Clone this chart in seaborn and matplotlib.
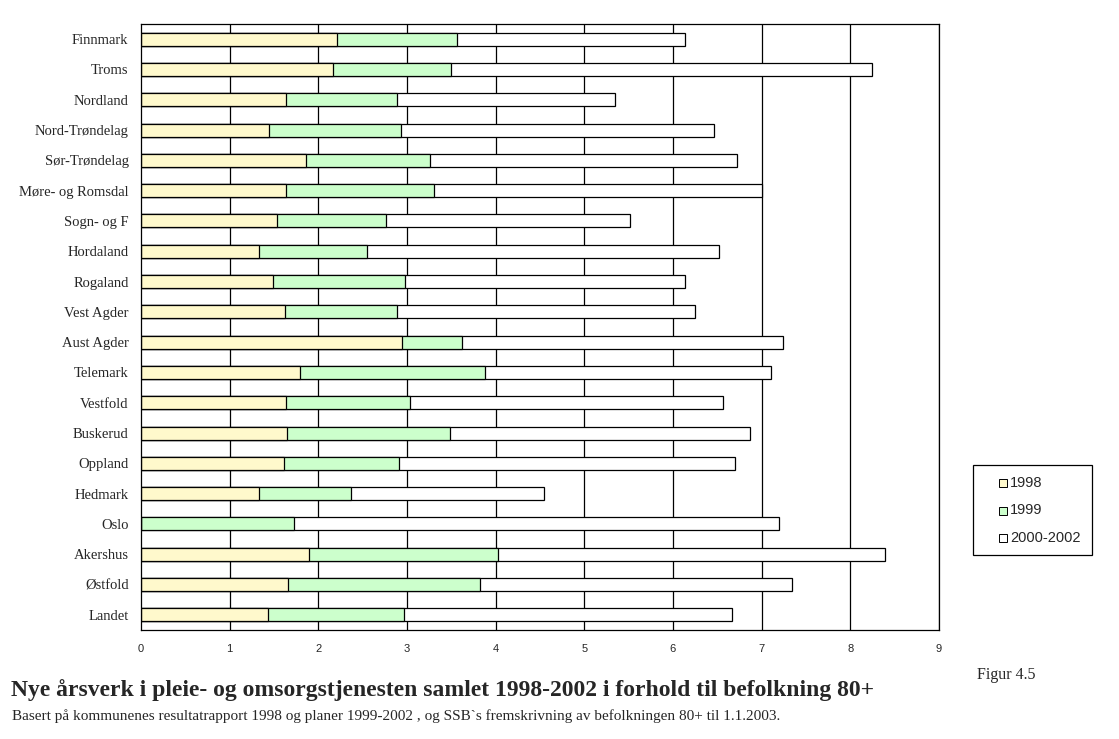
import numpy as np
import pandas as pd
import matplotlib
matplotlib.use('Agg')
import matplotlib.pyplot as plt
import seaborn as sns
from matplotlib.patches import Rectangle

# Regions, top to bottom as in the chart
regions = ['Finnmark', 'Troms', 'Nordland', 'Nord-Trøndelag', 'Sør-Trøndelag',
           'Møre- og Romsdal', 'Sogn- og F', 'Hordaland', 'Rogaland', 'Vest Agder',
           'Aust Agder', 'Telemark', 'Vestfold', 'Buskerud', 'Oppland',
           'Hedmark', 'Oslo', 'Akershus', 'Østfold', 'Landet']

# New man-years per segment (stacked)
y1998 = [2.21, 2.16, 1.63, 1.44, 1.86, 1.63, 1.53, 1.33, 1.49, 1.62,
         2.94, 1.79, 1.63, 1.65, 1.61, 1.33, 0.00, 1.89, 1.66, 1.43]
y1999 = [1.35, 1.34, 1.26, 1.49, 1.40, 1.67, 1.23, 1.22, 1.49, 1.27,
         0.68, 2.09, 1.40, 1.83, 1.30, 1.04, 1.72, 2.14, 2.16, 1.54]
y2000_2002 = [2.58, 4.75, 2.46, 3.53, 3.46, 3.70, 2.75, 3.97, 3.15, 3.36,
              3.62, 3.23, 3.53, 3.39, 3.79, 2.18, 5.47, 4.36, 3.52, 3.70]

series_labels = ['1998', '1999', '2000-2002']
colors = ['#FFF9CC', '#CCFFCC', '#FFFFFF']

df = pd.DataFrame({'region': regions, '1998': y1998, '1999': y1999,
                   '2000-2002': y2000_2002})
df['c1998'] = df['1998']
df['c1999'] = df['1998'] + df['1999']
df['ctotal'] = df['c1999'] + df['2000-2002']

sns.set_style('white')
plt.rcParams['font.family'] = ['Liberation Serif', 'DejaVu Serif']

W, H = 1119, 739
fig = plt.figure(figsize=(W / 100, H / 100), dpi=100)
ax = fig.add_axes([141 / W, 1 - 630 / H, 798 / W, 606 / H])

# Vertical grid lines at each integer
for v in range(1, 10):
    ax.axvline(v, color='black', lw=0.9, zorder=0)

# Draw cumulative bars from largest to smallest so they stack visually
for col, color in [('ctotal', colors[2]), ('c1999', colors[1]), ('c1998', colors[0])]:
    sns.barplot(data=df, x=col, y='region', orient='h', color=color,
                edgecolor='black', linewidth=0.9, width=0.43, ax=ax,
                saturation=1, zorder=2)

ax.set_xlim(0, 9)
ax.set_ylim(len(regions) - 0.5, -0.5)
ax.set_xlabel('')
ax.set_ylabel('')

for s in ax.spines.values():
    s.set_color('black')
    s.set_linewidth(0.9)

ax.set_xticks(range(0, 10))
ax.set_xticklabels([str(i) for i in range(10)], family=['Liberation Sans'], fontsize=8)
ax.tick_params(axis='x', direction='out', length=4, width=0.9, color='black', pad=6)

ax.set_yticks(range(len(regions)))
ax.set_yticklabels(regions, fontsize=10.5)
ax.tick_params(axis='y', which='major', length=0, pad=9)
ax.set_yticks(np.arange(-0.5, len(regions), 1.0), minor=True)
ax.tick_params(axis='y', which='minor', direction='out', length=4, width=0.9, color='black')

# Legend box outside the plot area (drawn in pixel coordinates)
def px(x, y):
    return x / W, 1 - y / H

fig.patches.append(Rectangle(px(973, 555), 119 / W, 90 / H, transform=fig.transFigure,
                             fill=False, edgecolor='black', linewidth=0.9))
for i, (lab, c) in enumerate(zip(series_labels, colors)):
    yc = 483 + i * 27.5
    fig.patches.append(Rectangle(px(999, yc + 4), 8 / W, 8 / H, transform=fig.transFigure,
                                 facecolor=c, edgecolor='black', linewidth=0.7))
    fig.text(*px(1010, yc), lab, family=['Liberation Sans'], fontsize=10.5,
             va='center', ha='left')

fig.text(*px(977, 675), 'Figur 4.5', fontsize=11.5, va='center', ha='left')
fig.text(*px(11, 690),
         'Nye årsverk i pleie- og omsorgstjenesten samlet 1998-2002 i forhold til befolkning 80+',
         fontsize=17, fontweight='bold', va='center', ha='left')
fig.text(*px(12, 716),
         'Basert på kommunenes resultatrapport 1998 og planer 1999-2002 , og SSB`s fremskrivning av befolkningen 80+ til 1.1.2003.',
         fontsize=11, va='center', ha='left')

fig.savefig('out.png', dpi=100)
